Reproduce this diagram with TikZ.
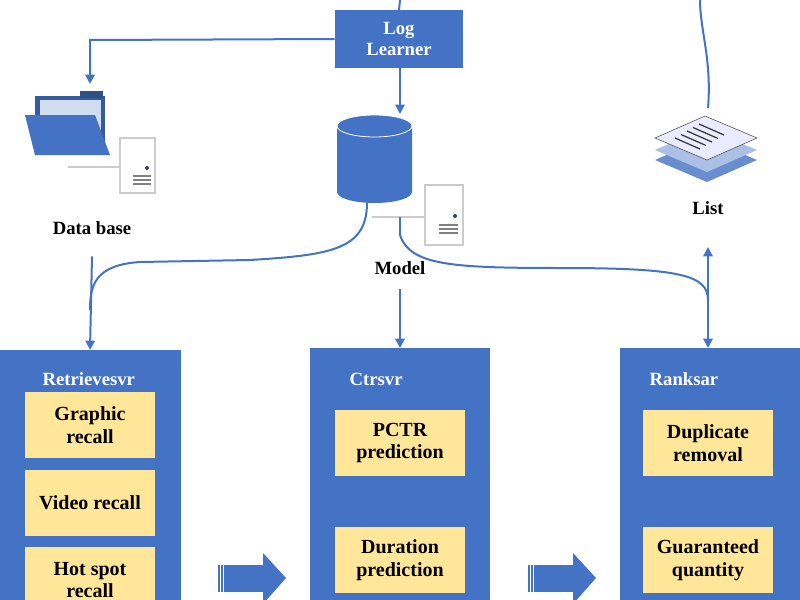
\documentclass[tikz,border=0pt]{standalone}
\usepackage{fontspec}
\setmainfont{Liberation Serif}[BoldFont={Liberation Serif Bold}]
\usetikzlibrary{arrows.meta}
\definecolor{bl}{HTML}{4472C4}
\definecolor{yl}{HTML}{FFE699}
\begin{document}
\begin{tikzpicture}[x=0.75pt,y=-0.75pt,
 con/.style={bl,line width=1.5pt},
 arr/.style={con,-{Triangle[length=7pt,width=7pt]}},
 yb/.style={fill=yl,minimum width=97.5pt,minimum height=49pt,align=center,font=\rmfamily\fontsize{15}{17}\selectfont\bfseries,text=black},
 ttl/.style={font=\rmfamily\fontsize{14}{16}\selectfont\bfseries,text=white,anchor=west},
 lab/.style={font=\rmfamily\fontsize{14}{16}\selectfont\bfseries,text=black},
 srv/.style={draw=gray!40,fill=white,line width=0.8pt}]
\useasboundingbox (0,0) rectangle (800,600);
% top Log Learner
\node[fill=bl,minimum width=96pt,minimum height=43pt,align=center,text=white,font=\rmfamily\fontsize{14}{16}\selectfont\bfseries] (log) at (399,39) {Log\\Learner};
\coordinate (top) at (400,0);
\draw[con] (top) -- (log.north);
% folder
\coordinate (fold) at (90,84);
\fill[bl!80!black] (35,96) rectangle (105,150);
\fill[bl!70!black] (80,91) rectangle (103,98);
\fill[bl!25] (40,100) rectangle (101,148);
\fill[bl] (25,115) -- (95,115) -- (110,155) -- (35,155) -- cycle;
\draw[gray!40,line width=0.8pt] (68,167) -- (120,167);
\draw[srv] (120,138) rectangle (155,193);
\fill[bl!60!black] (147,168) circle (2);
\foreach \yy in {176,180,184} \draw[gray,line width=1pt] (133,\yy) -- (151,\yy);
\node[lab] (db) at (92,228) {Data base};
% cylinder
\coordinate (cyltop) at (400,114);
\fill[bl] (337,126) -- (337,192) arc[start angle=180,end angle=0,x radius=37.5,y radius=11] -- (412,126) arc[start angle=0,end angle=-180,x radius=37.5,y radius=11] -- cycle;
\draw[white,line width=0.6pt] (374.5,126) ellipse [x radius=37.5,y radius=11];
\draw[gray!40,line width=0.8pt] (372,217) -- (425,217);
\draw[srv] (425,185) rectangle (463,245);
\fill[bl!60!black] (455,216) circle (2);
\foreach \yy in {225,229,233} \draw[gray,line width=1pt] (439,\yy) -- (458,\yy);
\node[lab] (model) at (400,268) {Model};
% list icon
\begin{scope}[shift={(705,150)}]
\fill[bl!80] (-50,10) -- (0,-12) -- (52,10) -- (2,32) -- cycle;
\fill[bl!45] (-50,0) -- (0,-22) -- (52,0) -- (2,22) -- cycle;
\draw[black!70,fill=blue!8] (-50,-12) -- (0,-34) -- (52,-12) -- (2,10) -- cycle;
\foreach \i in {0,1,2,3,4} \draw[black!80,line width=0.9pt] (-30+\i*6,-12-\i*3.5) -- (-5+\i*6,-1-\i*3.5);
\end{scope}
\coordinate (listtop) at (708,108);
\node[lab] (list) at (708,208) {List};
% big boxes
\fill[bl] (0,350) rectangle (181,600);
\fill[bl] (310,348) rectangle (490,600);
\fill[bl] (620,348) rectangle (800,600);
\coordinate (rt) at (90,350);
\coordinate (ct) at (400,348);
\coordinate (rk) at (708,348);
\node[ttl] (t1) at (38,379) {Retrievesvr};
\node[ttl] (t2) at (345,379) {Ctrsvr};
\node[ttl] (t3) at (645,379) {Ranksar};
\node[yb] (g) at (90,425) {Graphic\\recall};
\node[yb] (v) at (90,503) {Video recall};
\node[yb] (h) at (90,580) {Hot spot\\recall};
\node[yb] (p) at (400,443) {PCTR\\prediction};
\node[yb] (d) at (400,560) {Duration\\prediction};
\node[yb] (dr) at (708,443) {Duplicate\\removal};
\node[yb] (gq) at (708,560) {Guaranteed\\quantity};
% big arrows
\foreach \xx/\nm in {218/a1,528/a2}{
 \fill[bl] (\xx+8,565) rectangle (\xx+45,592);
 \fill[bl] (\xx+45,553) -- (\xx+68,578) -- (\xx+45,604) -- cycle;
 \foreach \k in {0,3,6} \fill[bl] (\xx+\k,565) rectangle (\xx+\k+1.6,592);
 \coordinate (\nm) at (\xx+30,578);
}
% connectors
\draw[arr] (log.west) -- (90,40) -- (fold);
\draw[arr] (log.south -| cyltop) -- (cyltop);
\draw[con] (listtop) .. controls (712,60) and (700,30) .. (700,0);
\draw[arr] (db.south) ++(0,17) -- (rt);
\draw[con] (367,203) .. controls (367,250) and (330,255) .. (250,260) -- (140,262) .. controls (95,265) and (90,285) .. (90,310);
\draw[arr] (model.south) ++(0,10) -- (ct);
\draw[con] (400,217) -- (400,235);
\draw[con,{Triangle[length=7pt,width=7pt]}-{Triangle[length=7pt,width=7pt]}] (708,247) -- (rk);
\draw[con] (400,235) .. controls (410,265) and (450,268) .. (560,268) .. controls (680,268) and (708,275) .. (708,300);
\end{tikzpicture}
\end{document}
